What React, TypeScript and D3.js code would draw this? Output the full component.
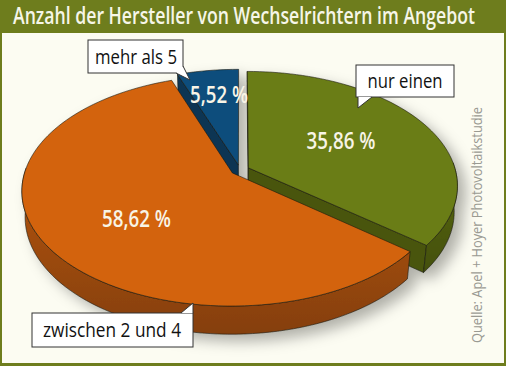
import React from 'react';
import * as d3 from 'd3';

// data
const categories = ['nur einen', 'zwischen 2 und 4', 'mehr als 5'];
const shares = [35.86, 58.62, 5.52];
const shareLabels = ['35,86 %', '58,62 %', '5,52 %'];
const sliceColors = ['#6b7d14', '#d3640f', '#0f4d7b'];

const title = 'Anzahl der Hersteller von Wechselrichtern im Angebot';
const source = 'Quelle: Apel + Hoyer Photovoltaikstudie';

const W = 506;
const H = 366;

// 3d view of the pie
const view = { cx: 240, cy: 170, s: 207, phi: Math.asin(0.54), D: 5.5, h: 0.15, explode: 0.045 };

// label layout (radius along bisector + nudge)
const labelRadius = [0.55, 0.6, 0.7];
const labelNudge = [[-6, -2], [12, 4], [3, -2]];

// callout boxes: x, y, w, h, tail
const callouts = [
  { x: 356, y: 65, w: 98, h: 32, tail: [[358, 97], [358, 108], [372, 97]], tx: 405 },
  { x: 32, y: 313, w: 161, h: 34, tail: [[181, 313], [193, 303], [193, 313]], tx: 112 },
  { x: 88, y: 40, w: 95, h: 33, tail: [[176, 73], [190, 80], [183, 66]], tx: 136 },
];

function project(u: number, v: number, y: number): [number, number] {
  const { cx, cy, s, phi, D } = view;
  const sp = Math.sin(phi), cp = Math.cos(phi);
  const yp = y * cp + v * sp;
  const d = D + v * cp - y * sp;
  return [cx + (s * u * D) / d, cy - (s * yp * D) / d];
}

const line = d3.line();

export default function App() {
  const pie = d3.pie<number>().sort(null).value(d => d);
  const arcs = pie(shares);
  const camU = 0, camV = -view.D * Math.cos(view.phi);

  const slices = arcs.map((a, i) => {
    const mid = (a.startAngle + a.endAngle) / 2;
    const ou = view.explode * Math.sin(mid);
    const ov = view.explode * Math.cos(mid);
    const n = Math.max(4, Math.ceil(((a.endAngle - a.startAngle) * 180) / Math.PI / 2));
    const angles = d3.range(n + 1).map(k => a.startAngle + ((a.endAngle - a.startAngle) * k) / n);
    const rim = (t: number, y: number) => project(ou + Math.sin(t), ov + Math.cos(t), y);
    const c0 = project(ou, ov, 0);
    const c1 = project(ou, ov, -view.h);

    const top = line([c0, ...angles.map(t => rim(t, 0))]) + 'Z';

    // outer side: only front part
    const front = angles.filter(t => Math.cos(t) < 0.05);
    let side: string | null = null;
    if (front.length > 1) {
      const pts = [...front.map(t => rim(t, 0)), ...front.slice().reverse().map(t => rim(t, -view.h))];
      side = line(pts) + 'Z';
    }

    // radial walls, culled when facing away
    const walls: string[] = [];
    [
      { t: a.startAngle, n: a.startAngle - Math.PI / 2 },
      { t: a.endAngle, n: a.endAngle + Math.PI / 2 },
    ].forEach(w => {
      const pu = ou + 0.5 * Math.sin(w.t), pv = ov + 0.5 * Math.cos(w.t);
      const dot = Math.sin(w.n) * (camU - pu) + Math.cos(w.n) * (camV - pv);
      if (dot > 0.02) {
        walls.push(line([c0, rim(w.t, 0), rim(w.t, -view.h), c1]) + 'Z');
      }
    });

    const r = labelRadius[i];
    const lp = project(ou + r * Math.sin(mid), ov + r * Math.cos(mid), 0);
    return {
      i, top, side, walls, color: sliceColors[i],
      label: [lp[0] + labelNudge[i][0], lp[1] + labelNudge[i][1]],
      depth: Math.cos(mid),
    };
  });

  // back to front
  const order = slices.slice().sort((p, q) => q.depth - p.depth);

  return (
    <svg width={W} height={H} style={{ position: 'absolute', left: 0, top: 0, display: 'block' }}>
      <defs>
        <filter id="shadow" x="-20%" y="-20%" width="150%" height="160%">
          <feDropShadow dx="8" dy="7" stdDeviation="7" floodColor="#000" floodOpacity="0.3" />
        </filter>
        {sliceColors.map((c, i) => (
          <linearGradient key={i} id={`side${i}`} x1="0" x2="0" y1="0" y2="1">
            <stop offset="0%" stopColor={d3.color(c)!.darker(0.45).toString()} />
            <stop offset="100%" stopColor={d3.color(c)!.darker(1.3).toString()} />
          </linearGradient>
        ))}
      </defs>
      <rect x={0} y={0} width={W} height={H} fill="#6e7d1d" />
      <rect x={2} y={33} width={W - 4} height={H - 36} fill="#fcfcf2" />
      <g transform="translate(13,24) scale(1,1.3)">
        <text x={0} y={0} fill="#f6f6e8" fontFamily="Open Sans, Noto Sans, sans-serif" fontWeight={600}
          fontSize={17.5} textLength={462} lengthAdjust="spacingAndGlyphs">{title}</text>
      </g>

      <g filter="url(#shadow)">
        {order.map(sl => (
          <g key={sl.i}>
            {sl.walls.map((w, k) => (
              <path key={k} d={w} fill={d3.color(sl.color)!.darker(1.1).toString()} stroke="#1a1a10" strokeWidth={0.6} strokeLinejoin="round" />
            ))}
            {sl.side && <path d={sl.side} fill={`url(#side${sl.i})`} stroke="#1a1a10" strokeWidth={0.6} strokeLinejoin="round" />}
            <path d={sl.top} fill={sl.color} stroke="#1a1a10" strokeWidth={0.6} strokeLinejoin="round" />
          </g>
        ))}
      </g>

      {slices.map(sl => (
        <text key={sl.i} x={sl.label[0]} y={sl.label[1]} textAnchor="middle" dominantBaseline="central"
          fill="#f8f4e6" fontFamily="Open Sans, Noto Sans, sans-serif" fontWeight={600} fontSize={23}
          textLength={sl.i === 2 ? 58 : 69} lengthAdjust="spacingAndGlyphs">{shareLabels[sl.i]}</text>
      ))}

      {callouts.map((c, i) => (
        <g key={i}>
          <rect x={c.x} y={c.y} width={c.w} height={c.h} fill="#fff" stroke="#333" strokeWidth={1} />
          <path d={line(c.tail as [number, number][])!} fill="#fff" stroke="#333" strokeWidth={1} />
          <text x={c.tx} y={c.y + c.h / 2 + 7} textAnchor="middle" fill="#111"
            fontFamily="Open Sans, Noto Sans, sans-serif" fontSize={20}
            textLength={i === 0 ? 75 : i === 1 ? 138 : 82} lengthAdjust="spacingAndGlyphs">{categories[i]}</text>
        </g>
      ))}

      <text transform="translate(482,343) rotate(-90)" fill="#9a9a92" fontFamily="Open Sans, Noto Sans, sans-serif"
        fontSize={15} textLength={236} lengthAdjust="spacingAndGlyphs">{source}</text>
    </svg>
  );
}
